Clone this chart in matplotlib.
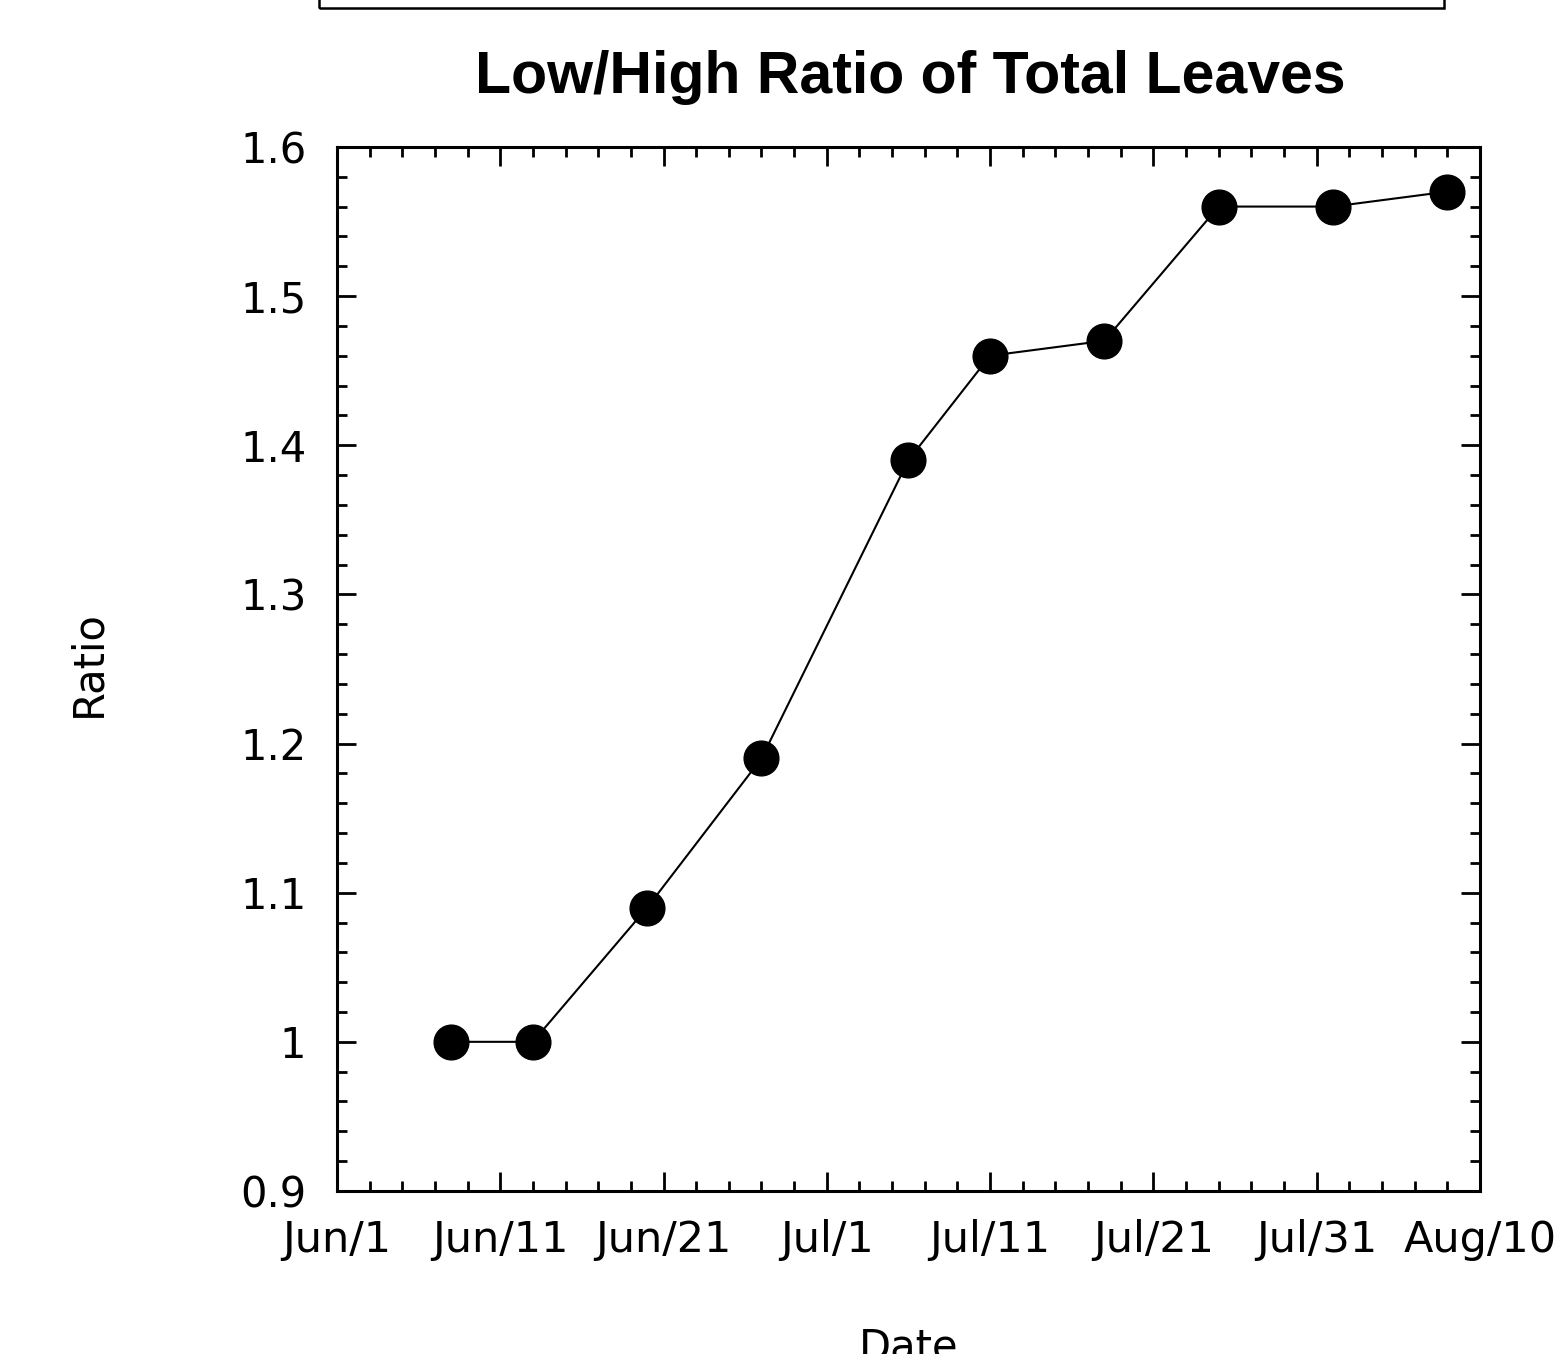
from datetime import datetime

import matplotlib
matplotlib.use("Agg")
import matplotlib.pyplot as plt
import matplotlib.dates as mdates
from matplotlib.patches import Rectangle
from matplotlib.ticker import FixedLocator, MultipleLocator, FuncFormatter

# sampling dates and low/high leaf ratio
sample_dates = ["Jun 8", "Jun 13", "Jun 20", "Jun 27", "Jul 6",
                "Jul 11", "Jul 18", "Jul 25", "Aug 1", "Aug 8"]
ratio = [1.00, 1.00, 1.09, 1.19, 1.39, 1.46, 1.47, 1.56, 1.56, 1.57]

tick_labels = ["Jun/1", "Jun/11", "Jun/21", "Jul/1",
               "Jul/11", "Jul/21", "Jul/31", "Aug/10"]
y_ticks = [0.9, 1.0, 1.1, 1.2, 1.3, 1.4, 1.5, 1.6]

YEAR = 2000


def to_num(s, fmt):
    return mdates.date2num(datetime.strptime(f"{s} {YEAR}", fmt + " %Y"))


x = [to_num(s, "%b %d") for s in sample_dates]
x_ticks = [to_num(s, "%b/%d") for s in tick_labels]

fig = plt.figure(figsize=(15.57, 13.54), dpi=100)
ax = fig.add_axes([0.2164, 0.1204, 0.7341, 0.7711])

ax.plot(x, ratio, color="black", lw=1.5, marker="o", markersize=25,
        markerfacecolor="black", markeredgecolor="black")

ax.set_xlim(x_ticks[0], x_ticks[-1])
ax.set_ylim(0.9, 1.6)

ax.xaxis.set_major_locator(FixedLocator(x_ticks))
ax.set_xticklabels(tick_labels)
ax.xaxis.set_minor_locator(MultipleLocator(2, offset=x_ticks[0] % 2))
ax.set_yticks(y_ticks)
ax.yaxis.set_major_formatter(FuncFormatter(lambda v, p: f"{v:g}"))
ax.yaxis.set_minor_locator(MultipleLocator(0.02))

for sp in ax.spines.values():
    sp.set_linewidth(2.2)
ax.tick_params(which="both", direction="in", top=True, right=True, width=2)
ax.tick_params(which="major", length=13.5)
ax.tick_params(which="minor", length=7.5)
ax.tick_params(axis="y", which="major", pad=22, labelsize=30)
ax.tick_params(axis="x", which="major", pad=20, labelsize=31)

ax.set_ylabel("Ratio", fontsize=30)
ax.yaxis.set_label_coords(-0.199, 0.505)
ax.set_xlabel("Date", fontsize=30)
ax.xaxis.set_label_coords(0.5, -0.13)

fig.text(0.5845, 1 - 93 / 1354, "Low/High Ratio of Total Leaves",
         family="Liberation Sans", fontweight="bold", fontsize=42.5,
         ha="center", va="baseline")

# header frame running off the top of the page
fig.patches.append(Rectangle((0.2049, 1 - 7.5 / 1354), 0.7225, 0.1,
                             transform=fig.transFigure, fill=False,
                             edgecolor="black", lw=1.8))

fig.savefig("out.png", dpi=100)
